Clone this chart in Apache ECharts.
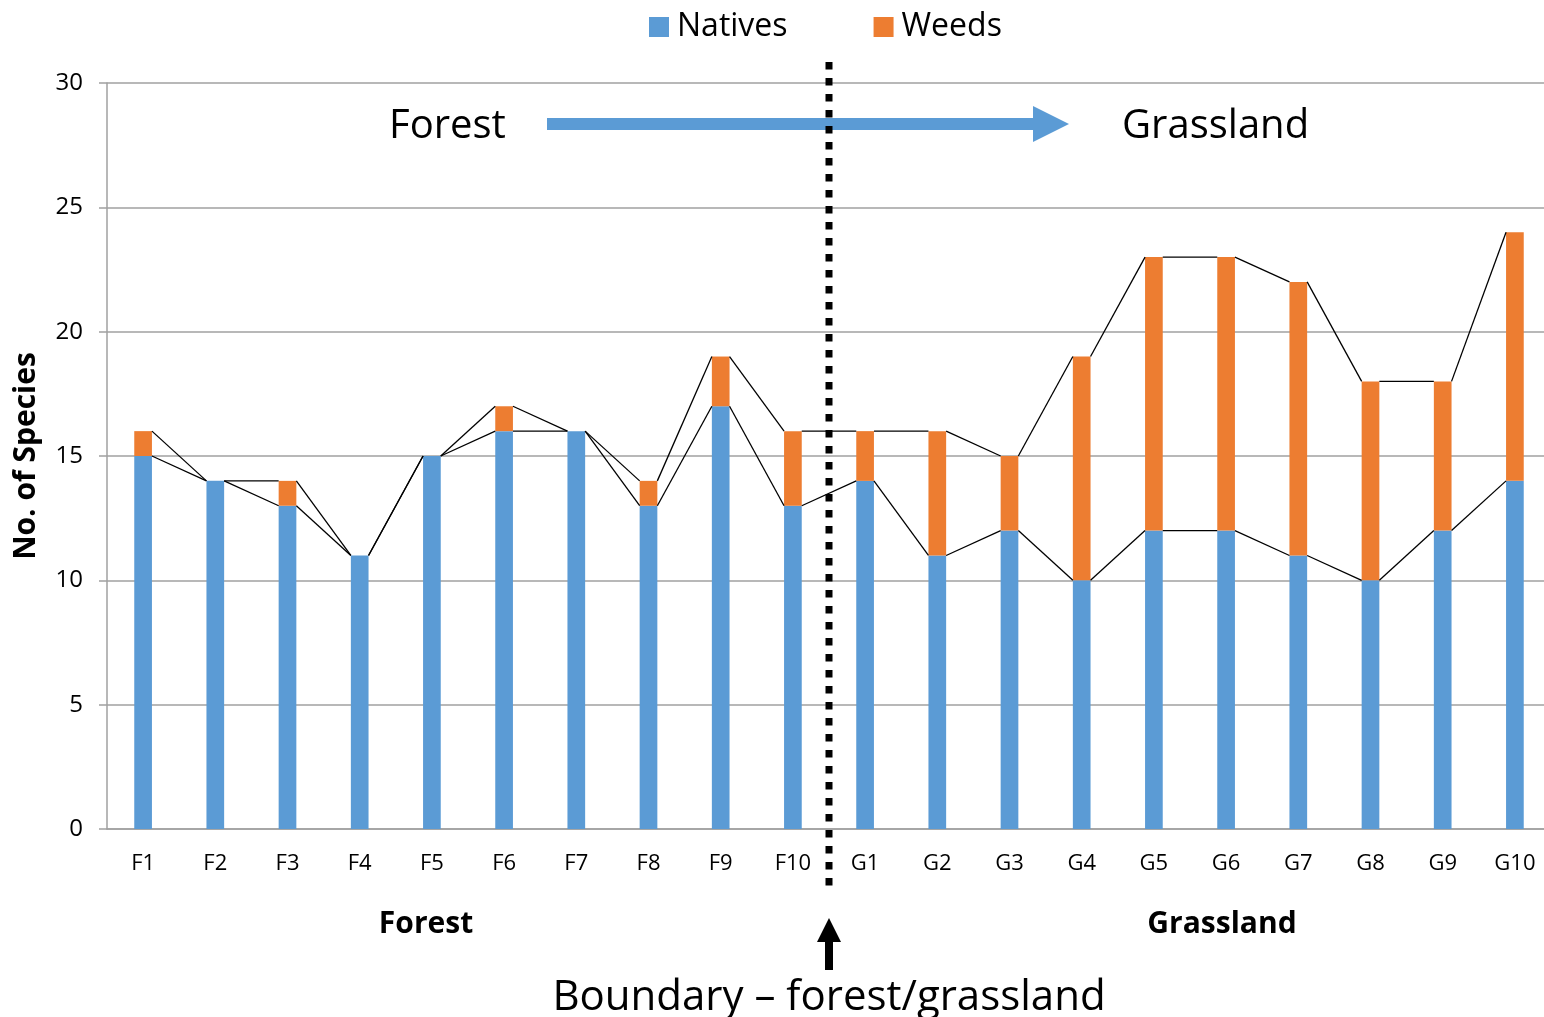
<!DOCTYPE html>
<html>
<head>
<meta charset="utf-8">
<script src="https://cdn.jsdelivr.net/npm/echarts@6/dist/echarts.min.js"></script>
<style>
  html, body { margin: 0; padding: 0; background: #fff; overflow: hidden; }
  #chart { width: 1544px; height: 1017px; }
</style>
</head>
<body>
<div id="chart"></div>
<script>
const categories = ['F1','F2','F3','F4','F5','F6','F7','F8','F9','F10','G1','G2','G3','G4','G5','G6','G7','G8','G9','G10'];
const natives = [15,14,13,11,15,16,16,13,17,13,14,11,12,10,12,12,11,10,12,14];
const weeds   = [1,0,1,0,0,1,0,1,2,3,2,5,3,9,11,11,11,8,6,10];
const seriesNames = ['Natives','Weeds'];
const yAxisTitle = 'No. of Species';
const yMin = 0, yMax = 30, yStep = 5;

const BLUE = '#5B9BD5', ORANGE = '#ED7D31', GRID = '#A0A0A0';
const FONT = "'Open Sans', 'Noto Sans', sans-serif";
const BAR_FRAC = 0.245;

// pairs of consecutive bars for the Excel-style series lines
const seriesLineData = [];
for (let i = 0; i < categories.length - 1; i++) {
  seriesLineData.push([i, natives[i], natives[i+1], natives[i] + weeds[i], natives[i+1] + weeds[i+1]]);
}

const chart = echarts.init(document.getElementById('chart'));
const option = {
  animation: false,
  backgroundColor: '#fff',
  textStyle: { fontFamily: FONT },
  grid: { left: 107, width: 1444, top: 83, bottom: 188, containLabel: false, outerBoundsMode: 'none' },
  legend: {
    data: seriesNames,
    left: 644, top: 6,
    itemWidth: 20, itemHeight: 20, itemGap: 86,
    icon: 'rect',
    textStyle: { fontSize: 32, color: '#000', fontFamily: FONT, padding: [0, 0, 0, 3] }
  },
  xAxis: {
    type: 'category',
    data: categories,
    axisLine: { show: true, lineStyle: { color: GRID, width: 1.5 } },
    axisTick: { show: false },
    axisLabel: { color: '#000', fontSize: 22, margin: 24, fontFamily: FONT }
  },
  yAxis: {
    type: 'value',
    min: yMin, max: yMax, interval: yStep,
    name: yAxisTitle,
    nameLocation: 'middle',
    nameRotate: 90,
    nameGap: 66,
    nameTextStyle: { fontSize: 30, fontWeight: 'bold', color: '#000', fontFamily: FONT },
    axisLine: { show: true, lineStyle: { color: GRID, width: 1.5 } },
    axisTick: { show: true, inside: false, length: 8, lineStyle: { color: GRID, width: 1.5 } },
    axisLabel: { color: '#000', fontSize: 24, margin: 24, fontFamily: FONT },
    splitLine: { show: true, lineStyle: { color: GRID, width: 1.5 } }
  },
  series: [
    {
      name: seriesNames[0], type: 'bar', stack: 'total', barWidth: (BAR_FRAC * 100) + '%',
      itemStyle: { color: BLUE }, data: natives, z: 2
    },
    {
      name: seriesNames[1], type: 'bar', stack: 'total', barWidth: (BAR_FRAC * 100) + '%',
      itemStyle: { color: ORANGE }, data: weeds, z: 2
    },
    {
      name: 'seriesLines', type: 'custom', z: 3, silent: true,
      data: seriesLineData,
      encode: { x: 0, y: [1, 2, 3, 4] },
      renderItem: function (params, api) {
        const i = api.value(0);
        const half = api.size([1, 0])[0] * BAR_FRAC / 2;
        const a1 = api.coord([i, api.value(1)]);
        const a2 = api.coord([i + 1, api.value(2)]);
        const b1 = api.coord([i, api.value(3)]);
        const b2 = api.coord([i + 1, api.value(4)]);
        const st = { stroke: '#000', lineWidth: 1.3 };
        return {
          type: 'group',
          children: [
            { type: 'line', shape: { x1: a1[0] + half, y1: a1[1], x2: a2[0] - half, y2: a2[1] }, style: st },
            { type: 'line', shape: { x1: b1[0] + half, y1: b1[1], x2: b2[0] - half, y2: b2[1] }, style: st }
          ]
        };
      }
    }
  ]
};
chart.setOption(option);

// annotations
const xF10 = chart.convertToPixel({ xAxisIndex: 0 }, categories.indexOf('F10'));
const xG1 = chart.convertToPixel({ xAxisIndex: 0 }, categories.indexOf('G1'));
const xB = (xF10 + xG1) / 2;
const yTop = chart.convertToPixel({ yAxisIndex: 0 }, yMax);
const yZero = chart.convertToPixel({ yAxisIndex: 0 }, yMin);

chart.setOption({
  graphic: [
    // blue direction arrow
    { type: 'rect', shape: { x: 547, y: 118, width: 488, height: 12 }, style: { fill: BLUE }, z: 10 },
    { type: 'polygon', shape: { points: [[1033, 106], [1069, 124], [1033, 142]] }, style: { fill: BLUE }, z: 10 },
    { type: 'text', x: 389, y: 127, style: { text: 'Forest', font: "40px " + FONT, fill: '#000', verticalAlign: 'middle', align: 'left' }, z: 10 },
    { type: 'text', x: 1122, y: 127, style: { text: 'Grassland', font: "40px " + FONT, fill: '#000', verticalAlign: 'middle', align: 'left' }, z: 10 },
    // boundary dotted line
    { type: 'line', shape: { x1: xB, y1: yTop - 21, x2: xB, y2: yZero + 58 },
      style: { stroke: '#000', lineWidth: 7, lineDash: [7.5, 8.5], lineCap: 'butt' }, z: 11 },
    // group labels
    { type: 'text', x: 426, y: 924, style: { text: 'Forest', font: "bold 30px " + FONT, fill: '#000', verticalAlign: 'middle', align: 'center' }, z: 10 },
    { type: 'text', x: 1222, y: 924, style: { text: 'Grassland', font: "bold 30px " + FONT, fill: '#000', verticalAlign: 'middle', align: 'center' }, z: 10 },
    // boundary arrow
    { type: 'polygon', shape: { points: [[xB, 918], [xB - 12, 942], [xB + 12, 942]] }, style: { fill: '#000' }, z: 10 },
    { type: 'rect', shape: { x: xB - 4, y: 940, width: 8, height: 30 }, style: { fill: '#000' }, z: 10 },
    { type: 'text', x: xB, y: 998, style: { text: 'Boundary – forest/grassland', font: "42px " + FONT, fill: '#000', verticalAlign: 'middle', align: 'center' }, z: 10 }
  ]
});
</script>
</body>
</html>
